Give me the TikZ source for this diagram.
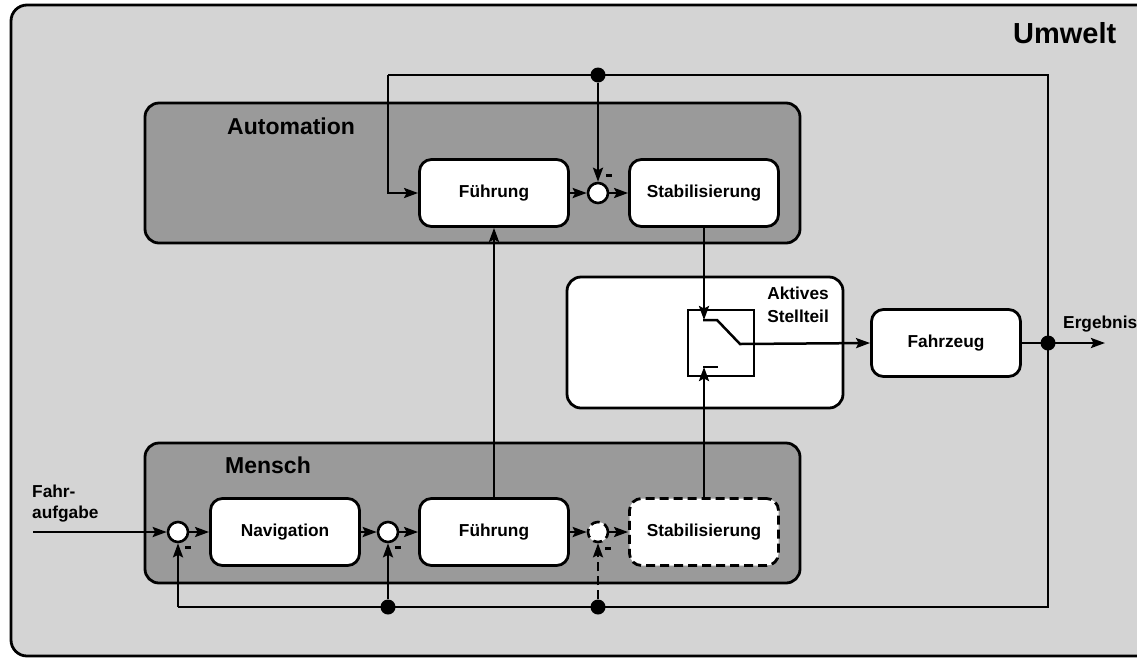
\documentclass[tikz,border=0pt]{standalone}
\usepackage{fontspec}
\setmainfont{Liberation Sans}
\usetikzlibrary{arrows.meta}
\definecolor{envgray}{RGB}{212,212,212}
\definecolor{grpgray}{RGB}{154,154,154}

\begin{document}
\begin{tikzpicture}[x=1pt,y=-1pt,
  every node/.style={font=\bfseries\fontsize{17.3}{20}\selectfont},
  block/.style={draw, line width=2.8pt, rounded corners=12pt, fill=white,
    minimum width=149pt, minimum height=67pt, inner sep=0pt},
  sumpt/.style={draw, circle, line width=2.6pt, fill=white, minimum size=20pt, inner sep=0pt},
  junction/.style={circle, fill=black, minimum size=15pt, inner sep=0pt},
  group/.style={draw, line width=2.8pt, rounded corners=14pt, fill=grpgray},
  conn/.style={line width=2.5pt},
  arr/.style={conn, -{Stealth[length=14pt,width=10pt,inset=2.5pt]}},
  minus/.style={fill=black, minimum width=6pt, minimum height=3pt, inner sep=0pt},
  dashpat/.style={dash pattern=on 9pt off 5pt},
  grouplabel/.style={font=\bfseries\fontsize{23}{26}\selectfont, inner sep=0pt, anchor=base west},
]
\useasboundingbox (0,0) rectangle (1137,657);
\clip (0,0) rectangle (1137,657);
\fill[white] (0,0) rectangle (1137,657);

% environment frame
\draw[line width=2.8pt, rounded corners=16pt, fill=envgray] (11,5) rectangle (1200,656);
\node[font=\bfseries\fontsize{29}{32}\selectfont, inner sep=0pt, anchor=base west] (umwelt) at (1013,43) {Umwelt};

% group frames
\draw[group] (145,103) rectangle (800,243);
\node[grouplabel] (autolbl) at (227,134) {Automation};
\draw[group] (145,443) rectangle (800,583);
\node[grouplabel] (menschlbl) at (225,473) {Mensch};

% active control element
\draw[line width=2.8pt, rounded corners=14pt, fill=white] (567,277) rectangle (843,408);
\node[inner sep=0pt, anchor=north east, align=right, font=\bfseries\fontsize{17.3}{23}\selectfont] (stlbl) at (829,287) {Aktives\\Stellteil};
\node[draw, line width=2.4pt, fill=white, minimum width=66pt, minimum height=66pt, inner sep=0pt] (sw) at (721,343) {};

% automation blocks
\node[block] (fA) at (494,193) {Führung};
\node[sumpt] (sA) at (598,193) {};
\node[block] (stA) at (704,193) {Stabilisierung};

% vehicle
\node[block] (fz) at (946,343) {Fahrzeug};

% human blocks
\node[sumpt] (s1) at (178,532) {};
\node[block] (nav) at (285,532) {Navigation};
\node[sumpt] (s2) at (388,532) {};
\node[block] (fM) at (494,532) {Führung};
\node[sumpt, dashpat] (s3) at (598,532) {};
\node[block, dashpat] (stM) at (704,532) {Stabilisierung};

% minus signs at the summing points
\node[minus] (mA) at (609,175) {};
\node[minus] (m1) at (188,547) {};
\node[minus] (m2) at (398,547) {};
\node[minus] (m3) at (608,548) {};

% routing points
\coordinate (cTL) at (388,75);
\coordinate (cTR) at (1048,75);
\coordinate (cBR) at (1048,607);
\coordinate (cBL) at (178,607);
\coordinate (in) at (33,532);
\coordinate (out) at (1105,343);
\coordinate (hi) at (704,320);
\coordinate (hiL) at (703,320);
\coordinate (hiR) at (717,320);
\coordinate (pivot) at (740,344);
\coordinate (lo) at (704,367);
\coordinate (loL) at (703,367);
\coordinate (loR) at (718,367);

% input / output labels
\node[inner sep=0pt, anchor=north west, align=left, font=\bfseries\fontsize{17.3}{21}\selectfont] (inlbl) at (32,485) {Fahr-\\aufgabe};
\node[inner sep=0pt, anchor=base west] (outlbl) at (1063,328) {Ergebnis};

% feedback loop
\draw[conn] (cTL) -- (cTR) -- (cBR) -- (cBL);
\draw[arr] (cTL) |- (fA.west);
\draw[arr] (cBL) -- (s1.south);

% forward paths
\draw[arr] (in) -- (s1.west);
\draw[arr] (s1.east) -- (nav.west);
\draw[arr] (nav.east) -- (s2.west);
\draw[arr] (s2.east) -- (fM.west);
\draw[arr] (fM.east) -- (s3.west);
\draw[arr, dashpat] (s3.east) -- (stM.west);
\draw[arr] (fA.east) -- (sA.west);
\draw[arr] (sA.east) -- (stA.west);
\draw[arr] (fM.north) -- (fA.south);

% switch
\draw[arr] (stA.south) -- (hi);
\draw[arr] (stM.north) -- (lo);
\draw[conn] (loL) -- (loR);
\draw[arr] (hiL) -- (hiR) -- (pivot) -- (fz.west);
\draw[arr] (fz.east) -- (out);

% junction points
\node[junction] (dTop) at (598,75) {};
\node[junction] (dOut) at (1048,343) {};
\node[junction] (d2) at (388,607) {};
\node[junction] (d3) at (598,607) {};
\draw[arr] (dTop) -- (sA.north);
\draw[arr] (d2) -- (s2.south);
\draw[arr, dashpat] (d3) -- (s3.south);
\end{tikzpicture}
\end{document}
